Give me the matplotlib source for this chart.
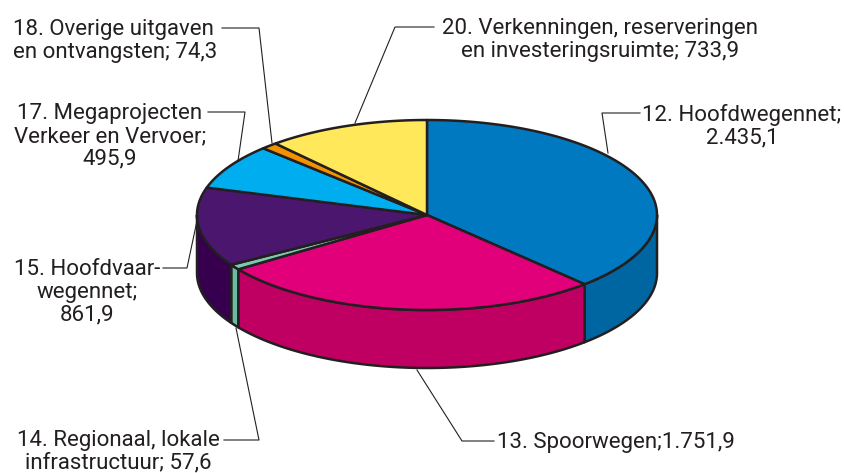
import matplotlib
matplotlib.use("Agg")
import matplotlib.pyplot as plt
import numpy as np
from matplotlib.patches import Polygon

# data: budget articles (mln euro), clockwise from 12 o'clock
labels = ["12. Hoofdwegennet;\n2.435,1",
          "13. Spoorwegen;1.751,9",
          "14. Regionaal, lokale\ninfrastructuur; 57,6",
          "15. Hoofdvaar-\nwegennet;\n861,9",
          "17. Megaprojecten\nVerkeer en Vervoer;\n495,9",
          "18. Overige uitgaven\nen ontvangsten; 74,3",
          "20. Verkenningen, reserveringen\nen investeringsruimte; 733,9"]
values = [2435.1, 1751.9, 57.6, 861.9, 495.9, 74.3, 733.9]
top_colors = ["#0079c1", "#e2007a", "#7cc8b0", "#4b176e", "#00aeef", "#f39200", "#ffe85a"]
side_colors = ["#0066a2", "#bf0062", "#6cbaa1", "#36004f", "#0093cc", "#d07c00", "#e0cc40"]

INK = "#231f20"
CX, CY, RX, RY, DEPTH = 427, 215, 230, 95, 58

plt.rcParams["font.family"] = ["Roboto", "DejaVu Sans"]

fig = plt.figure(figsize=(8.45, 4.73), dpi=100)
ax = fig.add_axes([0, 0, 1, 1])
ax.set_xlim(0, 845)
ax.set_ylim(473, 0)
ax.axis("off")


def arc(t1, t2, dy=0.0, n=120):
    t = np.radians(np.linspace(t1, t2, n))
    return np.column_stack([CX + RX * np.cos(t), CY - RY * np.sin(t) + dy])


frac = np.array(values) / sum(values) * 360
ends = 90 - np.cumsum(frac)
starts = ends + frac

# side walls (only the front half, angles between -180 and 0)
for a, b, c in zip(starts, ends, side_colors):
    hi, lo = min(a, 0), max(b, -180)
    if hi <= lo:
        continue
    upper = arc(hi, lo)
    lower = arc(lo, hi, DEPTH)
    ax.add_patch(Polygon(np.vstack([upper, lower]), closed=True, facecolor=c,
                         edgecolor=INK, lw=1.8, joinstyle="round", zorder=2))

# top face
for a, b, c in zip(starts, ends, top_colors):
    pts = np.vstack([[CX, CY], arc(a, b)])
    ax.add_patch(Polygon(pts, closed=True, facecolor=c, edgecolor=INK,
                         lw=1.8, joinstyle="round", zorder=3))

# labels with leader lines: (text x, first-line y, ha, leader path)
layout = [
    (742, 113, "center", [(640, 113), (602, 113), (608, 153)]),
    (497, 441, "left", [(494, 441), (462, 441), (417, 370)]),
    (118, 439, "center", [(224, 440), (259, 440), (236, 328)]),
    (87, 268, "center", [(163, 268), (187, 268), (198, 216)]),
    (110, 112, "center", [(208, 112), (245, 112), (238, 161)]),
    (13, 28, "left", [(222, 28), (259, 28), (272, 143)]),
    (600, 27, "center", [(434, 27), (395, 27), (355, 123)]),
]
for lab, (tx, ty, ha, path) in zip(labels, layout):
    ax.text(tx, ty - 9, lab, ha=ha, va="top", fontsize=16, color=INK,
            linespacing=1.12, multialignment="center" if ha == "center" else "left")
    p = np.array(path)
    ax.plot(p[:, 0], p[:, 1], color=INK, lw=0.8, zorder=4)

fig.savefig("out.png", dpi=100)
